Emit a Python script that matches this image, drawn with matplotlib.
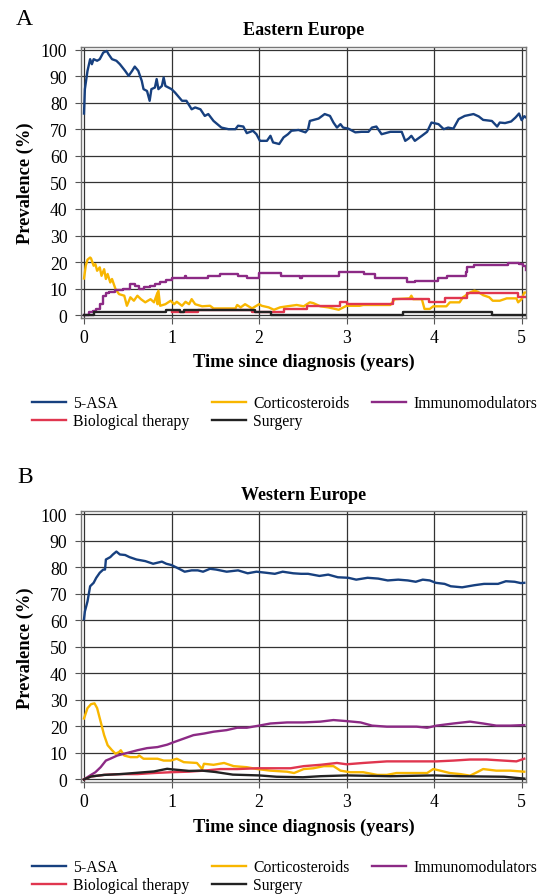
import matplotlib
matplotlib.use('Agg')
import matplotlib.pyplot as plt

plt.rcParams['font.family'] = ['Liberation Serif', 'DejaVu Serif']

# colours
c_asa, c_bio, c_cort, c_surg, c_imm = '#17407f', '#e0364f', '#f8b600', '#222222', '#8c2a85'

# ---- Eastern Europe (A) ----
e_asa_t = [0, 0.01, 0.04, 0.07, 0.09, 0.11, 0.15, 0.18, 0.22, 0.26, 0.28, 0.32, 0.37, 0.41, 0.47, 0.51, 0.55,
           0.58, 0.62, 0.66, 0.68, 0.72, 0.75, 0.77, 0.81, 0.83, 0.85, 0.89, 0.91, 0.93, 1.0, 1.04, 1.12, 1.17,
           1.23, 1.27, 1.33, 1.38, 1.42, 1.48, 1.57, 1.65, 1.73, 1.76, 1.82, 1.86, 1.93, 1.97, 2.01, 2.09, 2.13,
           2.16, 2.23, 2.28, 2.33, 2.37, 2.45, 2.53, 2.56, 2.58, 2.68, 2.75, 2.81, 2.85, 2.89, 2.93, 2.96, 3.02,
           3.10, 3.17, 3.25, 3.29, 3.34, 3.40, 3.50, 3.63, 3.67, 3.71, 3.74, 3.78, 3.86, 3.92, 3.97, 4.05, 4.11,
           4.16, 4.22, 4.28, 4.35, 4.45, 4.51, 4.56, 4.66, 4.72, 4.75, 4.81, 4.88, 4.93, 4.97, 5.0, 5.03, 5.05]
e_asa_v = [76, 85.2, 92.1, 96.5, 94.6, 96.5, 95.9, 96.5, 99, 99.6, 98.4, 96.5, 95.9, 94.6, 92.1, 90.2, 92.1,
           93.7, 92.1, 88.3, 85.2, 84.5, 80.8, 85.2, 85.8, 89, 85.2, 86.4, 89.6, 86.4, 85.2, 83.9, 80.8, 80.8,
           77.6, 78.3, 77.6, 75.1, 75.8, 73.2, 70.7, 70.1, 70.1, 71.4, 71.1, 68.6, 69.5, 68.2, 65.7, 65.7, 67.6,
           65.1, 64.5, 67, 68.2, 69.5, 69.8, 68.9, 70.1, 73.2, 74.1, 75.8, 75.1, 72.6, 70.7, 72, 70.7, 70.3,
           68.9, 69.1, 69.1, 70.7, 71.1, 68.2, 69.1, 69.1, 65.7, 66.6, 67.6, 65.7, 67.6, 69.1, 72.6, 72, 70.1,
           70.7, 70.3, 73.9, 75.1, 75.8, 74.9, 73.6, 73.2, 71.1, 72.6, 72.4, 73, 74.5, 76, 73.5, 75, 74.5]

e_cort_t = [0, 0.02, 0.04, 0.07, 0.08, 0.11, 0.13, 0.15, 0.18, 0.20, 0.23, 0.25, 0.27, 0.30, 0.32, 0.36, 0.40,
            0.46, 0.49, 0.53, 0.57, 0.61, 0.65, 0.70, 0.76, 0.80, 0.84, 0.84, 0.85, 0.87, 0.93, 0.99, 1.03, 1.06,
            1.12, 1.16, 1.20, 1.23, 1.27, 1.35, 1.44, 1.48, 1.60, 1.73, 1.75, 1.79, 1.84, 1.92, 2.0, 2.03, 2.11,
            2.17, 2.24, 2.32, 2.43, 2.51, 2.58, 2.62, 2.70, 2.79, 2.91, 3.0, 3.15, 3.19, 3.5, 3.55, 3.72, 3.74,
            3.76, 3.86, 3.89, 3.95, 3.99, 4.14, 4.18, 4.29, 4.33, 4.41, 4.46, 4.50, 4.56, 4.63, 4.67, 4.75, 4.83,
            4.94, 4.96, 5.0, 5.03, 5.05]
e_cort_v = [13.8, 18.6, 20.9, 21.7, 21.4, 18.6, 19.2, 16.7, 18, 14.8, 17.3, 13.6, 15.5, 12.3, 13.6, 9.8, 7.9,
            7.3, 3.5, 6.7, 5.4, 7.3, 6, 4.8, 6, 4.8, 8.5, 4.1, 9.2, 3.5, 4.1, 5.4, 4.1, 5,
            3.5, 5, 4.1, 6, 4.1, 3.3, 3.5, 2.5, 2.5, 2.5, 3.8, 2.9, 4.1, 2.5, 4.1, 3.5, 2.9,
            2, 2.9, 3.3, 3.8, 3.3, 4.8, 4.5, 3.3, 2.9, 2, 3.5, 3.5, 3.8, 3.8, 6, 6.3, 7.3,
            6, 6, 2.3, 2.3, 3.3, 3.3, 4.8, 4.8, 6.7, 8.5, 9.2, 8.8, 7.5, 6.7, 5.4, 5.4, 6.3,
            6.3, 4.8, 6, 8.5, 8.5]

e_imm_t = [0, 0.06, 0.10, 0.14, 0.18, 0.22, 0.25, 0.29, 0.35, 0.45, 0.52, 0.58, 0.63, 0.69, 0.75, 0.81, 0.87,
           0.94, 1.00, 1.15, 1.17, 1.42, 1.55, 1.76, 1.86, 2.00, 2.25, 2.47, 2.49, 2.51, 2.91, 3.20, 3.32, 3.69,
           3.78, 4.04, 4.15, 4.36, 4.38, 4.46, 4.84, 4.97, 5.02, 5.05]
e_imm_v = [0, 1, 1.6, 2.3, 4.1, 7.3, 8.3, 8.8, 9.5, 10, 11.7, 10.8, 9.8, 10.4, 11, 11.9, 12.3,
           13.3, 13.9, 14.8, 13.8, 14.8, 15.5, 14.8, 13.9, 15.8, 14.8, 13.9, 14.8, 14.8, 16.3, 15.5, 13.8, 12.3,
           12.9, 13.8, 14.8, 16.3, 18, 19, 19.8, 19.4, 18.6, 17]

e_bio_t = [1.00, 1.30, 1.92, 2.28, 2.55, 2.93, 3.00, 3.53, 3.94, 4.12, 4.38, 4.96, 5.05]
e_bio_v = [1.3, 2, 1, 2.3, 3.3, 5, 4.1, 6, 5, 6.3, 8.2, 6.7, 6.7]

e_surg_t = [0, 0.11, 0.94, 1.10, 1.14, 1.95, 2.14, 3.65, 4.66, 5.05]
e_surg_v = [0, 1, 2, 1.3, 2, 1, 0, 1, 0, 0]

# ---- Western Europe (B) ----
w_asa_t = [0, 0.01, 0.04, 0.07, 0.11, 0.14, 0.18, 0.22, 0.24, 0.25, 0.30, 0.33, 0.37, 0.41, 0.47, 0.52, 0.60,
           0.70, 0.79, 0.89, 0.94, 1.0, 1.08, 1.15, 1.23, 1.30, 1.36, 1.44, 1.51, 1.63, 1.76, 1.87, 1.97, 2.08,
           2.18, 2.27, 2.39, 2.48, 2.56, 2.69, 2.79, 2.90, 3.02, 3.11, 3.24, 3.36, 3.47, 3.59, 3.70, 3.79, 3.87,
           3.95, 4.02, 4.12, 4.19, 4.32, 4.46, 4.57, 4.73, 4.82, 4.92, 4.99, 5.03]
w_asa_v = [60.5, 63.4, 67.2, 72.9, 74.2, 76.1, 78, 79.2, 79.2, 83, 83.9, 84.9, 86, 84.9, 84.7, 83.9, 83,
           82.4, 81.4, 82.2, 81.4, 80.9, 79.6, 78.4, 78.9, 78.9, 78.4, 79.5, 79.2, 78.4, 78.9, 77.8, 78.4, 78,
           77.6, 78.4, 77.8, 77.6, 77.6, 76.8, 77.3, 76.3, 76.1, 75.4, 76.1, 75.8, 75.1, 75.4, 75.1, 74.6, 75.4,
           75.1, 74.2, 73.8, 72.9, 72.5, 73.3, 73.8, 73.8, 74.8, 74.6, 74.1, 74.2]

w_cort_t = [0, 0.04, 0.08, 0.12, 0.15, 0.19, 0.23, 0.27, 0.32, 0.36, 0.40, 0.42, 0.46, 0.53, 0.61, 0.63, 0.68,
            0.84, 0.91, 0.99, 1.06, 1.14, 1.29, 1.35, 1.37, 1.48, 1.60, 1.71, 1.86, 1.98, 2.13, 2.32, 2.40, 2.51,
            2.62, 2.74, 2.85, 2.93, 3.04, 3.19, 3.35, 3.46, 3.57, 3.73, 3.92, 3.99, 4.07, 4.18, 4.30, 4.41, 4.49,
            4.56, 4.71, 4.87, 5.03]
w_cort_v = [23, 26.9, 28.4, 28.7, 26.9, 21.8, 16.7, 12.9, 11, 9.7, 10.3, 11, 9, 8.4, 8.4, 9, 7.8,
            7.8, 7.1, 7.1, 7.8, 6.5, 6.2, 3.9, 5.9, 5.5, 6.2, 5, 4.6, 3.9, 3.3, 2.9, 2.4, 3.9,
            4.2, 5, 5, 3.3, 2.7, 2.7, 1.7, 1.7, 2.4, 2.4, 2.4, 3.9, 3.3, 2.4, 2, 1.4, 2.7,
            3.9, 3.3, 3.3, 2.9]

w_imm_t = [0, 0.08, 0.13, 0.19, 0.25, 0.30, 0.38, 0.46, 0.53, 0.61, 0.72, 0.84, 0.95, 1.03, 1.14, 1.25, 1.37,
           1.48, 1.63, 1.75, 1.86, 2.0, 2.13, 2.32, 2.51, 2.70, 2.85, 3.0, 3.16, 3.29, 3.46, 3.65, 3.80, 3.92,
           4.03, 4.22, 4.41, 4.56, 4.71, 4.87, 5.03]
w_imm_v = [0, 1.7, 2.7, 4.6, 7.1, 7.8, 9, 9.7, 10.3, 11, 11.8, 12.2, 13.1, 14.1, 15.4, 16.7, 17.3,
           18, 18.6, 19.5, 19.5, 20.3, 21.1, 21.5, 21.5, 21.8, 22.4, 22, 21.5, 20.3, 19.9, 19.9, 19.9, 19.5,
           20.3, 21.1, 21.8, 21.1, 20.3, 20.3, 20.5]

w_bio_t = [0, 0.08, 0.23, 0.42, 0.61, 0.80, 0.99, 1.18, 1.37, 1.56, 1.75, 1.98, 2.21, 2.36, 2.51, 2.70, 2.89,
           3.0, 3.19, 3.46, 3.65, 3.84, 4.03, 4.22, 4.41, 4.60, 4.79, 4.94, 5.03]
w_bio_v = [0, 1.1, 1.7, 2, 2, 2.4, 2.7, 2.9, 3.3, 3.9, 3.9, 4.2, 4.2, 4.2, 5, 5.5, 6.2,
           5.7, 6.2, 6.8, 6.8, 6.8, 6.8, 7.1, 7.5, 7.5, 7.1, 6.8, 7.8]

w_surg_t = [0, 0.08, 0.23, 0.42, 0.61, 0.80, 0.95, 1.0, 1.2, 1.35, 1.5, 1.7, 2.0, 2.2, 2.5, 2.7, 3.0, 3.5, 4.0,
            4.3, 4.8, 5.03]
w_surg_v = [0, 1.1, 1.7, 2, 2.5, 3, 4, 3.8, 3.2, 3.3, 2.8, 1.8, 1.5, 1.0, 0.8, 1.2, 1.5, 1.2, 1.5,
            1.2, 1.0, 0.3]

labels = ['5-ASA', 'Biological therapy', 'Corticosteroids', 'Surgery', 'Immunomodulators']
xticks = [0, 1, 2, 3, 4, 5]
yticks = list(range(0, 101, 10))

fig = plt.figure(figsize=(5.5, 8.95), dpi=100)
axA = fig.add_axes([0.1478, 0.6436, 0.8086, 0.3031])
axB = fig.add_axes([0.1478, 0.1248, 0.8086, 0.3028])

lw = 1.7
# panel A
axA.plot(e_asa_t, e_asa_v, color=c_asa, lw=lw, label='5-ASA', zorder=3)
axA.plot(e_cort_t, e_cort_v, color=c_cort, lw=lw, label='Corticosteroids', zorder=3)
axA.plot(e_imm_t, e_imm_v, color=c_imm, lw=lw, drawstyle='steps-post', label='Immunomodulators', zorder=3)
axA.plot(e_bio_t, e_bio_v, color=c_bio, lw=lw, drawstyle='steps-post', label='Biological therapy', zorder=3)
axA.plot(e_surg_t, e_surg_v, color=c_surg, lw=lw, drawstyle='steps-post', label='Surgery', zorder=3)
# panel B
axB.plot(w_asa_t, w_asa_v, color=c_asa, lw=lw, label='5-ASA', zorder=3)
axB.plot(w_cort_t, w_cort_v, color=c_cort, lw=lw, label='Corticosteroids', zorder=3)
axB.plot(w_imm_t, w_imm_v, color=c_imm, lw=lw, label='Immunomodulators', zorder=3)
axB.plot(w_bio_t, w_bio_v, color=c_bio, lw=lw, label='Biological therapy', zorder=3)
axB.plot(w_surg_t, w_surg_v, color=c_surg, lw=lw, label='Surgery', zorder=3)

for ax, title in [(axA, 'Eastern Europe'), (axB, 'Western Europe')]:
    ax.set_xlim(-0.031, 5.05)
    ax.set_ylim(-1.1, 101.2)
    ax.set_xticks(xticks)
    ax.set_yticks(yticks)
    ax.grid(True, color='#333333', lw=0.9, zorder=1)
    ax.tick_params(labelsize=12.8, length=4, width=0.8, color='#555555')
    ax.tick_params(axis='y', pad=6)
    ax.tick_params(axis='x', pad=4)
    for s in ax.spines.values():
        s.set_color('#777777')
        s.set_linewidth(1.0)
    ax.set_title(title, fontsize=13, fontweight='bold', pad=9)
    ax.set_xlabel('Time since diagnosis (years)', fontsize=13.3, fontweight='bold', labelpad=5)
    ax.set_ylabel('Prevalence (%)', fontsize=13.3, fontweight='bold', labelpad=5)

fig.text(0.045, 0.978, 'A', fontsize=17, ha='center', va='center')
fig.text(0.045, 0.466, 'B', fontsize=17, ha='center', va='center')

for ax, top in [(axA, 1 - 396 / 895), (axB, 1 - 860 / 895)]:
    hd, lb = ax.get_legend_handles_labels()
    order = [lb.index(l) for l in labels]
    fig.legend([hd[i] for i in order], [lb[i] for i in order], loc='upper left',
               bbox_to_anchor=(0.058, top), ncol=3, frameon=False, fontsize=11.3,
               handlelength=2.2, handletextpad=0.45, columnspacing=1.4,
               labelspacing=0.15, borderpad=0, borderaxespad=0)

fig.savefig('out.png', dpi=100)
